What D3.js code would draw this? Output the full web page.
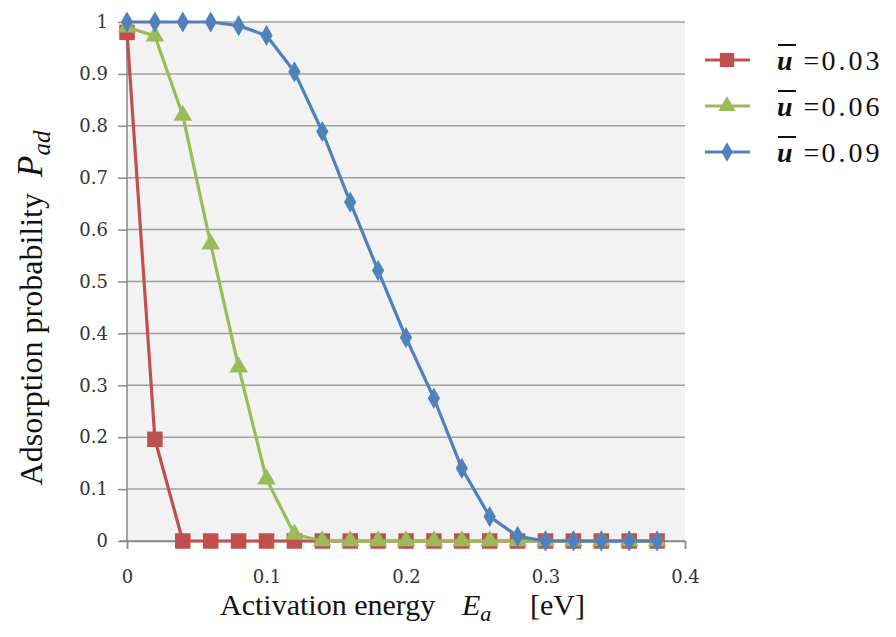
<!DOCTYPE html>
<html>
<head>
<meta charset="utf-8">
<script src="https://cdn.jsdelivr.net/npm/d3@7"></script>
<style>
  body { margin: 0; background: #fff; }
</style>
</head>
<body>
<svg id="chart" width="896" height="637"></svg>
<script>
// activation energy values (eV)
const energies = [0, 0.02, 0.04, 0.06, 0.08, 0.10, 0.12, 0.14, 0.16, 0.18,
                  0.20, 0.22, 0.24, 0.26, 0.28, 0.30, 0.32, 0.34, 0.36, 0.38];
const seriesNames = ["0.03", "0.06", "0.09"];
const p003 = [0.98, 0.196, 0, 0, 0, 0, 0, 0, 0, 0, 0, 0, 0, 0, 0, 0, 0, 0, 0, 0];
const p006 = [0.99, 0.973, 0.82, 0.572, 0.335, 0.119, 0.013, 0, 0, 0, 0, 0, 0, 0, 0, 0, 0, 0, 0, 0];
const p009 = [1, 1, 1, 1, 0.993, 0.974, 0.904, 0.789, 0.653, 0.521, 0.392, 0.275, 0.14, 0.047, 0.009, 0, 0, 0, 0, 0];
const xTicks = [0, 0.1, 0.2, 0.3, 0.4];
const yTicks = [0, 0.1, 0.2, 0.3, 0.4, 0.5, 0.6, 0.7, 0.8, 0.9, 1];

const colors = ["#c0504d", "#9bbb59", "#4f81bd"];
const symbols = [d3.symbolSquare, d3.symbolTriangle, d3.symbolDiamond];
const symSizes = [240, 150, 130];
const serif = "'Liberation Serif', 'Times New Roman', Tinos, serif";

const margin = {top: 22, left: 127, right: 211, bottom: 96};
const width = 896, height = 637;
const svg = d3.select("#chart");

const x = d3.scaleLinear().domain([0, 0.4]).range([margin.left, width - margin.right]);
const y = d3.scaleLinear().domain([0, 1]).range([height - margin.bottom, margin.top]);

// plot background
svg.append("rect")
  .attr("x", x(0)).attr("y", y(1))
  .attr("width", x(0.4) - x(0)).attr("height", y(0) - y(1))
  .attr("fill", "#f2f2f2");

// horizontal gridlines
svg.append("g")
  .selectAll("line")
  .data(yTicks.filter(d => d > 0))
  .enter().append("line")
  .attr("x1", x(0)).attr("x2", x(0.4))
  .attr("y1", d => y(d)).attr("y2", d => y(d))
  .attr("stroke", "#a0a0a0")
  .attr("stroke-width", 1.5);

const fmt = d => (d === 0 || d === 1) ? String(d) : d3.format(".1f")(d);

// axes
const yAxis = svg.append("g")
  .attr("transform", "translate(" + x(0) + ",0)")
  .call(d3.axisLeft(y).tickValues(yTicks).tickSize(9).tickPadding(10).tickFormat(fmt));
const xAxis = svg.append("g")
  .attr("transform", "translate(0," + y(0) + ")")
  .call(d3.axisBottom(x).tickValues(xTicks).tickSize(8).tickPadding(21).tickFormat(fmt));

[xAxis, yAxis].forEach(a => {
  a.attr("font-family", null);
  a.selectAll("path.domain").attr("stroke", "#8a8a8a").attr("stroke-width", 1.5);
  a.selectAll(".tick line").attr("stroke", "#8a8a8a").attr("stroke-width", 1.5);
  a.selectAll("text")
    .attr("fill", "#333")
    .style("font-family", "'DejaVu Serif', serif")
    .style("font-size", "18px");
});
yAxis.select(".domain").attr("d", "M0," + y(0) + "V" + y(1));
svg.append("line")
  .attr("x1", x(0) - 7).attr("x2", x(0.4))
  .attr("y1", y(0)).attr("y2", y(0))
  .attr("stroke", "#8a8a8a").attr("stroke-width", 1.5);

// series
const allSeries = [p003, p006, p009];
const line = d3.line().x((d, i) => x(energies[i])).y(d => y(d));

allSeries.forEach((vals, k) => {
  const g = svg.append("g");
  g.append("path")
    .datum(vals)
    .attr("d", line)
    .attr("fill", "none")
    .attr("stroke", colors[k])
    .attr("stroke-width", 3.2)
    .attr("stroke-linejoin", "round");
  g.selectAll("path.mark")
    .data(vals)
    .enter().append("path")
    .attr("class", "mark")
    .attr("transform", (d, i) => "translate(" + x(energies[i]) + "," + y(d) + ")")
    .attr("d", d3.symbol().type(symbols[k]).size(symSizes[k]))
    .attr("fill", colors[k]);
});

// legend
const legend = svg.append("g");
seriesNames.forEach((name, k) => {
  const ly = 60 + k * 46;
  legend.append("line")
    .attr("x1", 705).attr("x2", 750)
    .attr("y1", ly).attr("y2", ly)
    .attr("stroke", colors[k]).attr("stroke-width", 3.2);
  legend.append("path")
    .attr("transform", "translate(727," + ly + ")")
    .attr("d", d3.symbol().type(symbols[k]).size(symSizes[k] * 0.85))
    .attr("fill", colors[k]);
  const t = legend.append("text")
    .attr("x", 777).attr("y", ly + 10)
    .attr("fill", "#111")
    .style("font-family", serif)
    .style("font-size", "28px");
  t.append("tspan").text("u")
    .style("font-weight", "bold").style("font-style", "italic");
  t.append("tspan").text("=").attr("dx", 11);
  t.append("tspan").text(name).attr("dx", 2).style("letter-spacing", "3px");
  legend.append("line")
    .attr("x1", 778).attr("x2", 796)
    .attr("y1", ly - 15).attr("y2", ly - 15)
    .attr("stroke", "#111").attr("stroke-width", 2);
});

// y axis title
const yt = svg.append("text")
  .attr("transform", "translate(42,308) rotate(-90)")
  .attr("text-anchor", "middle")
  .attr("fill", "#111")
  .style("font-family", serif)
  .style("font-size", "32px");
yt.append("tspan").text("Adsorption probability\u00a0\u00a0");
yt.append("tspan").text("P").style("font-style", "italic").style("font-size", "35px");
yt.append("tspan").text("ad").style("font-style", "italic").attr("dy", 8).style("font-size", "25px");

// x axis title
const xt = svg.append("text")
  .attr("x", 220).attr("y", 615)
  .attr("fill", "#111")
  .style("font-family", serif)
  .style("font-size", "30px");
xt.append("tspan").text("Activation energy");
xt.append("tspan").text("E").attr("x", 462).style("font-style", "italic");
xt.append("tspan").text("a").style("font-style", "italic").attr("dy", 6).style("font-size", "22px");
xt.append("tspan").text("[eV]").attr("x", 530).attr("dy", -6);
</script>
</body>
</html>
